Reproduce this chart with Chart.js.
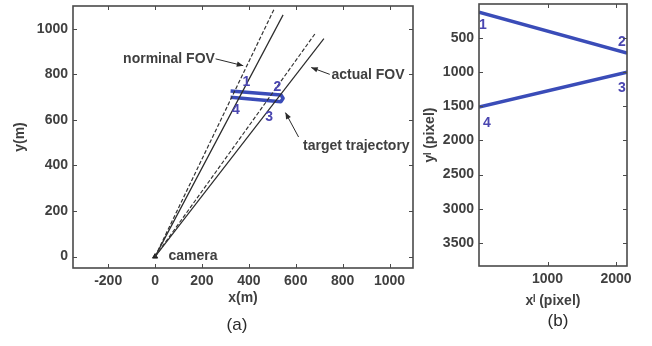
<!DOCTYPE html>
<html>
<head>
<meta charset="utf-8">
<script src="https://cdn.jsdelivr.net/npm/chart.js@4/dist/chart.umd.min.js"></script>
<style>
  body { margin: 0; background: #fff; }
  #wrap { position: relative; width: 652px; height: 346px; overflow: hidden; }
  .box { position: absolute; top: 0; }
  .cap { position: absolute; font: 17px "Liberation Sans", Arial, sans-serif; color: #2a2a2a; transform: translate(-50%, -50%); }
</style>
</head>
<body>
<div id="wrap">
  <div class="box" style="left:0;width:420px;height:346px"><canvas id="chartA"></canvas></div>
  <div class="box" style="left:420px;width:232px;height:346px"><canvas id="chartB"></canvas></div>
  <div class="cap" style="left:237px;top:325px">(a)</div>
  <div class="cap" style="left:558px;top:321px">(b)</div>
</div>
<script>
// panel (a): ground plane, metres
const xTicksA = [-200, 0, 200, 400, 600, 800, 1000];
const yTicksA = [0, 200, 400, 600, 800, 1000];
const nominalLeft = [{ x: 0, y: 0 }, { x: 508, y: 1087 }];
const nominalRight = [{ x: 0, y: 0 }, { x: 682, y: 978 }];
const actualLeft = [{ x: 0, y: 0 }, { x: 546, y: 1061 }];
const actualRight = [{ x: 0, y: 0 }, { x: 720, y: 957 }];
// 1 -> 2, turn, 3 -> 4
const trajectoryA = [
  { x: 322, y: 727 }, { x: 537, y: 709 }, { x: 546, y: 695 },
  { x: 537, y: 680 }, { x: 322, y: 699 }
];
const cameraA = [{ x: 0, y: 0 }];

// panel (b): image plane, pixels
const xTicksB = [1000, 2000];
const yTicksB = [500, 1000, 1500, 2000, 2500, 3000, 3500];
const seg12 = [{ x: 0, y: 120 }, { x: 2160, y: 720 }];
const seg43 = [{ x: 0, y: 1510 }, { x: 2160, y: 1000 }];

const FONT = '"Liberation Sans", Arial, sans-serif';
const INK = '#404040';
const BLUE = '#3a4cb8';
const NUM = '#4a46b0';

const notes = {
  id: 'notes',
  afterDatasetsDraw(chart, args, opts) {
    const { ctx, chartArea: a, scales } = chart;
    const sx = scales.x, sy = scales.y;
    ctx.save();

    // arrows
    ctx.strokeStyle = '#2a2a2a';
    ctx.fillStyle = '#2a2a2a';
    ctx.lineWidth = 1;
    (opts.arrows || []).forEach(ar => {
      const x0 = sx.getPixelForValue(ar.from[0]), y0 = sy.getPixelForValue(ar.from[1]);
      const x1 = sx.getPixelForValue(ar.to[0]), y1 = sy.getPixelForValue(ar.to[1]);
      const ang = Math.atan2(y1 - y0, x1 - x0);
      ctx.beginPath();
      ctx.moveTo(x0, y0);
      ctx.lineTo(x1, y1);
      ctx.stroke();
      ctx.beginPath();
      ctx.moveTo(x1, y1);
      ctx.lineTo(x1 - 7 * Math.cos(ang - 0.4), y1 - 7 * Math.sin(ang - 0.4));
      ctx.lineTo(x1 - 7 * Math.cos(ang + 0.4), y1 - 7 * Math.sin(ang + 0.4));
      ctx.closePath();
      ctx.fill();
    });

    // texts
    ctx.textBaseline = 'middle';
    (opts.texts || []).forEach(t => {
      ctx.font = 'bold ' + (t.size || 14) + 'px ' + FONT;
      ctx.fillStyle = t.color || INK;
      ctx.textAlign = t.align || 'left';
      ctx.fillText(t.text, sx.getPixelForValue(t.x), sy.getPixelForValue(t.y));
    });

    // box and inward ticks
    ctx.strokeStyle = '#4a4a4a';
    ctx.lineWidth = 1;
    ctx.beginPath();
    sx.ticks.forEach(t => {
      const p = Math.round(sx.getPixelForValue(t.value)) + 0.5;
      ctx.moveTo(p, a.bottom); ctx.lineTo(p, a.bottom - 4);
      ctx.moveTo(p, a.top); ctx.lineTo(p, a.top + 4);
    });
    sy.ticks.forEach(t => {
      const p = Math.round(sy.getPixelForValue(t.value)) + 0.5;
      ctx.moveTo(a.left, p); ctx.lineTo(a.left + 4, p);
      ctx.moveTo(a.right, p); ctx.lineTo(a.right - 4, p);
    });
    ctx.stroke();
    ctx.lineWidth = 1.6;
    ctx.strokeRect(a.left, a.top, a.right - a.left, a.bottom - a.top);
    ctx.restore();
  }
};

function axis(min, max, ticks, title, size, titlePad, reverse) {
  return {
    type: 'linear',
    min: min,
    max: max,
    reverse: !!reverse,
    afterBuildTicks: s => { s.ticks = ticks.map(v => ({ value: v })); },
    afterFit: s => {
      if (s.isHorizontal()) { s.height = size; s.paddingLeft = 0; s.paddingRight = 0; }
      else { s.width = size; s.paddingTop = 0; s.paddingBottom = 0; }
    },
    grid: { display: false, drawTicks: false },
    border: { display: false },
    ticks: {
      font: { family: FONT, size: 14, weight: 'bold' }, color: INK, padding: 5,
      maxRotation: 0, autoSkip: false, callback: v => String(v)
    },
    title: {
      display: true, text: title, font: { family: FONT, size: 14, weight: 'bold' },
      color: INK, padding: titlePad
    }
  };
}

function lineSet(data, color, width, dash) {
  return {
    data: data, showLine: true, borderColor: color, borderWidth: width,
    borderDash: dash || [], pointRadius: 0, fill: false,
    borderJoinStyle: 'round', borderCapStyle: 'butt'
  };
}

new Chart(document.getElementById('chartA'), {
  type: 'scatter',
  data: {
    datasets: [
      lineSet(nominalLeft, '#333', 1.2, [4, 2]),
      lineSet(nominalRight, '#333', 1.2, [4, 2]),
      lineSet(actualLeft, '#2a2a2a', 1.2),
      lineSet(actualRight, '#2a2a2a', 1.2),
      lineSet(trajectoryA, BLUE, 3.5),
      { data: cameraA, pointStyle: 'triangle', pointRadius: 3, backgroundColor: '#222', borderColor: '#222' }
    ]
  },
  options: {
    responsive: true,
    maintainAspectRatio: false,
    animation: false,
    layout: { padding: { top: 6, right: 7, left: 0, bottom: 0 } },
    plugins: {
      legend: { display: false },
      tooltip: { enabled: false },
      notes: {
        arrows: [
          { from: [258, 868], to: [376, 838] },
          { from: [745, 800], to: [666, 830] },
          { from: [612, 525], to: [556, 632] }
        ],
        texts: [
          { text: 'norminal FOV', x: 255, y: 868, align: 'right' },
          { text: 'actual FOV', x: 752, y: 795 },
          { text: 'target trajectory', x: 631, y: 487 },
          { text: 'camera', x: 57, y: 0 },
          { text: '1', x: 390, y: 767, align: 'center', color: NUM },
          { text: '2', x: 522, y: 745, align: 'center', color: NUM },
          { text: '3', x: 486, y: 614, align: 'center', color: NUM },
          { text: '4', x: 345, y: 643, align: 'center', color: NUM }
        ]
      }
    },
    scales: {
      x: axis(-350, 1100, xTicksA, 'x(m)', 78, { top: 0, bottom: 39 }),
      y: axis(-50, 1100, yTicksA, 'y(m)', 73, { top: 12, bottom: 0 })
    }
  },
  plugins: [notes]
});

new Chart(document.getElementById('chartB'), {
  type: 'scatter',
  data: {
    datasets: [
      lineSet(seg12, BLUE, 3.5),
      lineSet(seg43, BLUE, 3.5)
    ]
  },
  options: {
    responsive: true,
    maintainAspectRatio: false,
    animation: false,
    layout: { padding: { top: 4, right: 25, left: 0, bottom: 0 } },
    plugins: {
      legend: { display: false },
      tooltip: { enabled: false },
      notes: {
        texts: [
          { text: '1', x: 58, y: 308, align: 'center', color: NUM },
          { text: '2', x: 2087, y: 557, align: 'center', color: NUM },
          { text: '3', x: 2087, y: 1232, align: 'center', color: NUM },
          { text: '4', x: 117, y: 1745, align: 'center', color: NUM }
        ]
      }
    },
    scales: {
      x: axis(0, 2160, xTicksB, 'x\u02E1 (pixel)', 80, { top: 0, bottom: 36 }),
      y: axis(0, 3840, yTicksB, 'y\u02E1 (pixel)', 59, { top: 2, bottom: 0 }, true)
    }
  },
  plugins: [notes]
});
</script>
</body>
</html>
